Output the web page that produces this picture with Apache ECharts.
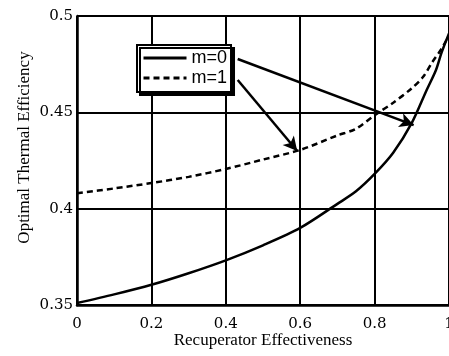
<!DOCTYPE html>
<html><head><meta charset="utf-8">
<script src="https://cdn.jsdelivr.net/npm/echarts@6/dist/echarts.min.js"></script>
<style>html,body{margin:0;padding:0;background:#fff}#c{width:449px;height:356px}</style>
</head><body><div id="c"></div>
<script>
var xTicks = [0, 0.2, 0.4, 0.6, 0.8, 1];
var yTicks = [0.35, 0.4, 0.45, 0.5];
var xM0 = [0, 0.1, 0.2, 0.3, 0.4, 0.5, 0.6, 0.7, 0.75, 0.8, 0.85, 0.9, 0.94, 0.965, 0.98, 1.0];
var yM0 = [0.351, 0.3555, 0.3605, 0.3665, 0.3732, 0.381, 0.390, 0.4025, 0.409, 0.418, 0.429, 0.4445, 0.4616, 0.472, 0.481, 0.491];
var xM1 = [0, 0.1, 0.2, 0.3, 0.4, 0.5, 0.6, 0.7, 0.75, 0.8, 0.85, 0.9, 0.93, 0.955, 0.98, 1.0];
var yM1 = [0.408, 0.4105, 0.4133, 0.4165, 0.4206, 0.4255, 0.4305, 0.438, 0.4415, 0.4485, 0.455, 0.4625, 0.4683, 0.476, 0.483, 0.49];
var arrowStart0 = [0.432, 0.4777], arrowEnd0 = [0.905, 0.4434];
var arrowStart1 = [0.432, 0.4668], arrowEnd1 = [0.592, 0.4299];

function pairs(xs, ys){ return xs.map(function(x,i){return [x, ys[i]];}); }

var chart = echarts.init(document.getElementById('c'));
chart.setOption({
  animation: false,
  grid: {left: 77, right: 0, top: 16, bottom: 51, containLabel: false, outerBoundsMode: 'none'},
  legend: {
    show: true,
    left: 137, top: 45, orient: 'vertical',
    itemWidth: 43, itemHeight: 14, itemGap: 2,
    padding: [4, 4, 5, 5],
    backgroundColor: '#fff', borderColor: '#000', borderWidth: 2,
    shadowColor: '#000', shadowBlur: 0, shadowOffsetX: 3, shadowOffsetY: 3,
    itemStyle: {opacity: 0, color: 'transparent', borderWidth: 0},
    lineStyle: {width: 3},
    textStyle: {fontFamily: 'Liberation Sans', fontSize: 18, color: '#000'},
    data: ['m=0', 'm=1']
  },
  xAxis: {
    type: 'value', min: 0, max: 1, interval: 0.2,
    name: 'Recuperator Effectiveness', nameLocation: 'middle', nameGap: 27, nameMoveOverlap: false,
    nameTextStyle: {fontFamily: 'Liberation Serif', fontSize: 17, color: '#000'},
    axisLine: {show: true, lineStyle: {color: '#000', width: 2.5}},
    axisTick: {show: false},
    axisLabel: {fontFamily: 'DejaVu Serif', fontSize: 15, color: '#000', margin: 12,
      formatter: function(v){ return String(+v.toFixed(2)); }},
    splitLine: {show: true, lineStyle: {color: '#000', width: 2}}
  },
  yAxis: {
    type: 'value', min: 0.35, max: 0.5, interval: 0.05,
    name: 'Optimal Thermal Efficiency', nameLocation: 'middle', nameGap: 44, nameMoveOverlap: false,
    nameTextStyle: {fontFamily: 'Liberation Serif', fontSize: 17, color: '#000', padding: [0,0,0,26]},
    axisLine: {show: true, lineStyle: {color: '#000', width: 2.5}},
    axisTick: {show: false},
    axisLabel: {fontFamily: 'DejaVu Serif', fontSize: 15, color: '#000', margin: 4,
      formatter: function(v){ return String(+v.toFixed(2)); }},
    splitLine: {show: true, lineStyle: {color: '#000', width: 2}}
  },
  series: [
    {name: 'm=0', type: 'line', data: pairs(xM0, yM0), smooth: 0.3, symbol: 'none',
      lineStyle: {color: '#000', width: 2.5}, itemStyle: {color: '#000'},
      markLine: {silent: true, symbol: ['none', 'arrow'], symbolSize: [11, 14],
        label: {show: false}, lineStyle: {color: '#000', width: 2.5, type: 'solid'},
        data: [[{coord: arrowStart0}, {coord: arrowEnd0}], [{coord: arrowStart1}, {coord: arrowEnd1}]]}},
    {name: 'm=1', type: 'line', data: pairs(xM1, yM1), smooth: 0.3, symbol: 'none',
      lineStyle: {color: '#000', width: 2.5, type: [6, 4]}, itemStyle: {color: '#000'}}
  ]
});
</script></body></html>
